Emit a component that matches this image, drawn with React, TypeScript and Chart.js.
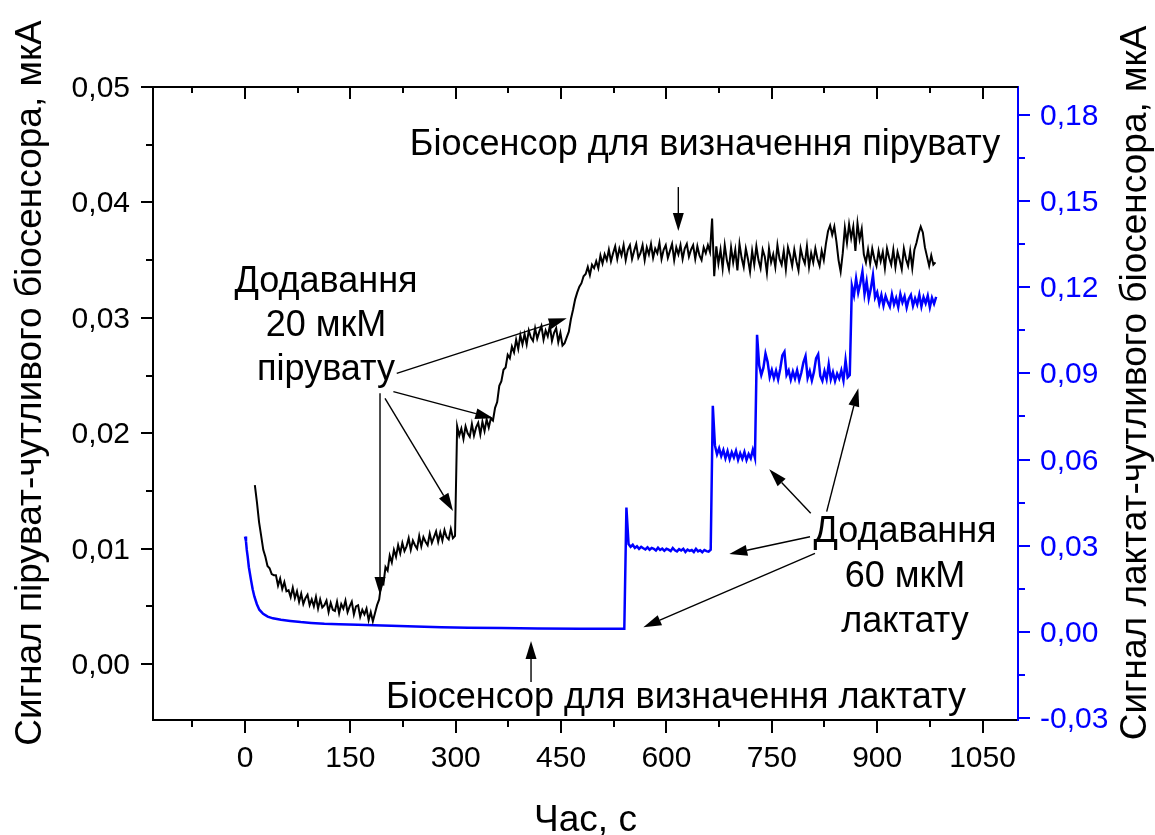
import { useEffect, useRef } from 'react';
import { Chart, registerables } from 'chart.js';

Chart.register(...registerables);

const FONT = '"Liberation Sans", Arial, Helvetica, sans-serif';

// ---- axis ranges -------------------------------------------------------
const TIME_MIN = -131;
const TIME_MAX = 1100.5;
const PYR_MIN = -0.00485;
const PYR_MAX = 0.05;
const LAC_MIN = -0.0307;
const LAC_MAX = 0.1897;

// ---- tick values -------------------------------------------------------
const timeTicks = [0, 150, 300, 450, 600, 750, 900, 1050];
const timeMinorTicks = [-75, 75, 225, 375, 525, 675, 825, 975];
const pyruvateTicks = [0, 0.01, 0.02, 0.03, 0.04, 0.05];
const pyruvateMinorTicks = [0.005, 0.015, 0.025, 0.035, 0.045];
const lactateTicks = [-0.03, 0, 0.03, 0.06, 0.09, 0.12, 0.15, 0.18];
const lactateMinorTicks = [-0.015, 0.015, 0.045, 0.075, 0.105, 0.135, 0.165];

// ---- pyruvate-sensitive biosensor, current in nA, sampled every 3 s from 14 s
const PYRUVATE_T0 = 14;
const PYRUVATE_DT = 3;
const pyruvateCurrentNA = [
  15.5, 14.0, 12.3, 11.1, 9.9, 9.3, 8.5, 8.3, 7.8, 7.7,
  7.7, 6.8, 7.4, 6.5, 7.1, 6.3, 6.4, 5.8, 6.6, 5.7,
  6.3, 5.4, 6.1, 5.2, 5.7, 6.0, 5.1, 5.6, 5.0,
  5.8, 4.8, 5.6, 4.9, 5.1, 5.5, 4.5, 5.3, 4.7, 4.6,
  5.4, 4.4, 5.2, 4.8, 5.5, 4.5, 5.0, 5.4, 4.3, 5.0,
  5.1, 4.1, 4.7, 4.3, 4.8, 3.8, 4.5, 3.7, 4.4, 5.1,
  5.6, 7.0, 6.9, 8.4, 8.1, 9.4, 8.8, 9.9, 9.3, 10.3,
  9.6, 10.5, 9.8, 10.2, 10.9, 9.9, 10.7, 10.3, 10.0, 11.1,
  10.2, 11.0, 10.6, 10.3, 11.3, 10.5, 11.0, 11.5, 10.6, 11.4,
  10.7, 11.6, 11.0, 10.8, 11.7, 10.9, 11.1, 20.6, 19.8, 20.4,
  19.5, 20.6, 20.0, 19.7, 20.8, 19.8, 20.5, 20.9, 19.9, 21.0,
  20.2, 21.2, 20.5, 21.3, 21.1, 22.2, 22.7, 24.1, 24.5, 25.5,
  25.7, 26.8, 26.5, 27.5, 27.0, 28.1, 27.3, 28.5, 27.7, 28.6,
  27.7, 28.9, 28.3, 28.0, 29.1, 28.2, 28.8, 29.3, 28.1,
  28.9, 28.4, 29.3, 28.0, 28.7, 29.1, 27.9, 28.7, 27.6, 27.8,
  28.3, 28.8, 29.9, 30.7, 31.6, 32.2, 32.7, 33.0, 33.6, 33.8,
  34.4, 33.7, 34.6, 34.3, 34.9, 34.3, 35.4, 34.7, 35.5, 35.0,
  35.9, 34.9, 35.6, 36.2, 35.1, 36.0, 35.4, 36.3, 35.0, 35.9,
  36.3, 35.1, 35.8, 36.4, 35.2, 35.6, 36.3, 35.0, 36.1, 35.5,
  36.4, 35.2, 36.0, 35.6, 36.5, 35.1, 35.9, 36.3, 35.2,
  35.8, 36.4, 35.0, 36.1, 35.5, 36.3, 35.1, 36.0, 36.4, 35.3,
  35.9, 36.3, 35.1, 36.2, 35.4, 35.0, 36.1, 35.6, 36.3, 35.7,
  38.6, 33.6, 36.2, 34.7, 35.9, 34.3, 36.3, 35.0, 34.2, 36.1,
  34.8, 35.9, 34.1, 36.4, 35.2, 34.4, 36.0, 35.1, 34.0, 35.8,
  34.6, 36.2, 35.0, 34.3, 35.9, 35.3, 33.9, 36.0, 34.8, 35.5,
  34.4, 36.3, 35.1, 34.6, 35.8, 34.2, 36.1, 35.4, 34.5, 35.9,
  34.9, 34.1, 36.0, 35.2, 34.7, 36.2, 34.4, 35.6, 34.8, 36.0,
  35.1, 34.5, 35.8, 35.0, 36.4, 37.5, 38.0, 37.2, 37.9, 36.6,
  35.0, 34.0, 35.6, 37.8, 36.5, 38.1, 36.9, 37.9, 35.8, 38.2,
  36.8, 37.7, 35.5, 34.8, 35.9, 34.7, 36.0, 35.1, 34.5, 35.8,
  34.9, 35.7, 34.3, 36.0, 35.2, 34.6, 35.9, 34.4, 35.7, 35.0,
  34.2, 36.0, 35.1, 34.5, 35.8, 34.3, 35.9, 36.5, 37.3, 37.9,
  37.4, 36.1, 35.3, 34.5, 35.4, 34.6, 34.8,
];

// ---- lactate-sensitive biosensor, current in nA ----------------------------
// baseline decay after switching on
const lactateDecayTimes = [
  0, 1.4, 2.5, 3.8, 5.5, 8.5, 10.9, 13.3, 16.9, 20.4, 25.8, 32.3, 39.7, 51.2, 64.4,
  79.3, 94.2, 113, 133.8, 160.6, 183.4, 208.2, 242.9, 279.7, 317.8, 365.1, 417, 476.4, 540,
];
const lactateDecayNA = [
  33.2, 31.5, 28.5, 26.2, 22.5, 18.1, 14.8, 12.3, 9.6, 7.7, 6.3, 5.3, 4.7, 4.2, 3.8,
  3.4, 3.1, 2.8, 2.6, 2.44, 2.25, 2.1, 1.85, 1.6, 1.45, 1.3, 1.2, 1.1, 1.05,
];
// four lactate additions, sampled every 3 s from 543 s
const LACTATE_STEPS_T0 = 543;
const LACTATE_DT = 3;
const lactateStepsNA = [
  // 1st addition
  43.3, 30.6, 29.6, 30.3, 29.2, 29.8, 28.9, 29.6, 29.1, 28.7,
  29.4, 28.6, 29.2, 28.9, 28.3, 29.3, 28.5, 29.0, 28.2, 28.9,
  28.6, 28.1, 29.2, 28.4, 28.0, 28.8, 28.3, 28.9, 27.8, 28.6,
  28.2, 28.5, 27.8, 28.9, 28.0, 28.4, 27.7, 28.5, 28.1, 27.9,
  28.6,
  // 2nd addition
  78.7, 64.9, 61.8, 63.9, 61.2, 63.3, 60.4, 62.9, 60.1, 62.5,
  60.7, 63.0, 59.9, 62.2, 60.3, 62.6, 59.8, 61.9, 60.4, 63.4,
  60.6,
  // 3rd addition
  103.4, 92.8, 89.4, 91.9, 96.9, 94.0, 88.7, 91.2, 88.3, 90.9,
  87.9, 91.6, 96.2, 97.5, 89.4, 91.0, 87.8, 90.6, 88.2, 91.1,
  87.6, 90.2, 93.8, 96.0, 88.4, 90.8, 87.5, 90.5, 95.2, 96.6,
  89.1, 87.4, 90.8, 88.0, 93.1, 87.9, 90.4, 87.3, 89.9, 88.2,
  91.0, 87.5, 94.6, 88.6, 89.4,
  // 4th addition
  120.5, 117.2, 123.0, 118.1, 121.4, 125.4, 117.6, 122.0, 116.0, 119.5,
  124.2, 116.4, 118.2, 114.3, 117.3, 113.6, 116.9, 114.8, 113.2, 117.5,
  114.0, 116.2, 113.1, 117.6, 114.7, 116.8, 112.9, 115.9, 117.3, 113.5,
  116.1, 114.0, 117.4, 113.3, 116.5, 114.4, 117.0, 113.0, 116.3, 114.2,
  116.6,
];

// ---- annotations (time in s, signal in µA on the pyruvate axis) -----------
type Pt = [number, number];
const pyruvateAdditionText = ['Додавання', '20 мкМ', 'пірувату'];
const pyruvateAdditionAnchor: Pt = [115.3, 0.03224];
const pyruvateAdditionArrows: [Pt, Pt][] = [
  [[216.0, 0.02519], [458.0, 0.02996]],
  [[211.2, 0.0236], [353.5, 0.02129]],
  [[199.3, 0.02302], [296.1, 0.01326]],
  [[192.2, 0.02346], [192.2, 0.00598]],
];
const lactateAdditionText = ['Додавання', '60 мкМ', 'лактату'];
const lactateAdditionAnchor: Pt = [939.6, 0.0106];
const lactateAdditionArrows: [Pt, Pt][] = [
  [[828.1, 0.0132], [873.2, 0.02389]],
  [[805.4, 0.01306], [746.4, 0.01687]],
  [[804.4, 0.01103], [689.5, 0.00953]],
  [[811.5, 0.00959], [567.1, 0.00318]],
];
const pyruvateSensorText = 'Біосенсор для визначення пірувату';
const pyruvateSensorAnchor: Pt = [654.9, 0.04411];
const pyruvateSensorArrow: [Pt, Pt] = [[616.9, 0.04133], [616.9, 0.03752]];
const lactateSensorText = 'Біосенсор для визначення лактату';
const lactateSensorAnchor: Pt = [613.6, -0.00381];
const lactateSensorArrow: [Pt, Pt] = [[407.2, -0.00156], [407.2, 0.00199]];

const X_TITLE = 'Час, с';
const LEFT_TITLE = 'Сигнал піруват-чутливого біосенсора, мкА';
const RIGHT_TITLE = 'Сигнал лактат-чутливого біосенсора, мкА';

const BLUE = '#0000ff';

const fmt = (v: number) => v.toFixed(2).replace('.', ',');

function drawText(
  ctx: CanvasRenderingContext2D,
  s: string,
  x: number,
  y: number,
  align: CanvasTextAlign,
  size: number,
  color = '#000',
) {
  ctx.save();
  ctx.font = `${size}px ${FONT}`;
  ctx.textAlign = align;
  ctx.textBaseline = 'alphabetic';
  ctx.fillStyle = color;
  ctx.fillText(s, x, y);
  ctx.restore();
}

function drawVerticalText(ctx: CanvasRenderingContext2D, s: string, x: number, y: number, size: number) {
  ctx.save();
  ctx.translate(x, y);
  ctx.rotate(-Math.PI / 2);
  ctx.font = `${size}px ${FONT}`;
  ctx.textAlign = 'center';
  ctx.textBaseline = 'alphabetic';
  ctx.fillStyle = '#000';
  ctx.fillText(s, 0, 0);
  ctx.restore();
}

function drawArrow(ctx: CanvasRenderingContext2D, x1: number, y1: number, x2: number, y2: number) {
  const len = 18;
  const half = 5.5;
  const ang = Math.atan2(y2 - y1, x2 - x1);
  const bx = x2 - len * Math.cos(ang);
  const by = y2 - len * Math.sin(ang);
  ctx.beginPath();
  ctx.moveTo(x1, y1);
  ctx.lineTo(bx, by);
  ctx.stroke();
  ctx.beginPath();
  ctx.moveTo(x2, y2);
  ctx.lineTo(bx + half * Math.sin(ang), by - half * Math.cos(ang));
  ctx.lineTo(bx - half * Math.sin(ang), by + half * Math.cos(ang));
  ctx.closePath();
  ctx.fill();
}

const decorPlugin = {
  id: 'decor',
  afterDraw(chart: any) {
    const { ctx, chartArea: a, scales } = chart;
    const xs = scales.x;
    const yl = scales.y;
    const yr = scales.y1;
    const px = (t: number) => xs.getPixelForValue(t);
    const py = (v: number) => yl.getPixelForValue(v);

    ctx.save();
    ctx.lineCap = 'butt';

    // top frame line
    ctx.strokeStyle = '#000';
    ctx.lineWidth = 2;
    ctx.beginPath();
    ctx.moveTo(a.left - 1, a.top);
    ctx.lineTo(a.right, a.top);
    ctx.stroke();

    const seg = (x1: number, y1: number, x2: number, y2: number) => {
      ctx.beginPath();
      ctx.moveTo(x1, y1);
      ctx.lineTo(x2, y2);
      ctx.stroke();
    };

    // time ticks: outward at the bottom, inward at the top
    timeTicks.forEach((t) => {
      const x = Math.round(px(t));
      seg(x, a.bottom, x, a.bottom + 13);
      seg(x, a.top, x, a.top + 12);
    });
    timeMinorTicks.forEach((t) => {
      const x = Math.round(px(t));
      seg(x, a.bottom, x, a.bottom + 7);
      seg(x, a.top, x, a.top + 6);
    });
    // left axis ticks
    pyruvateTicks.forEach((v) => {
      const y = Math.round(py(v));
      seg(a.left - 12, y, a.left, y);
    });
    pyruvateMinorTicks.forEach((v) => {
      const y = Math.round(py(v));
      seg(a.left - 7, y, a.left, y);
    });
    // right axis ticks (blue)
    ctx.strokeStyle = BLUE;
    lactateTicks.forEach((v) => {
      const y = Math.round(yr.getPixelForValue(v));
      seg(a.right, y, a.right + 12, y);
    });
    lactateMinorTicks.forEach((v) => {
      const y = Math.round(yr.getPixelForValue(v));
      seg(a.right, y, a.right + 7, y);
    });

    // tick labels
    timeTicks.forEach((t) => drawText(ctx, String(t), px(t), a.bottom + 47, 'center', 30));
    pyruvateTicks.forEach((v) => drawText(ctx, fmt(v), a.left - 23, py(v) + 10, 'right', 30));
    lactateTicks.forEach((v) =>
      drawText(ctx, fmt(v), a.right + 22, yr.getPixelForValue(v) + 10, 'left', 30, BLUE),
    );

    // axis titles
    drawText(ctx, X_TITLE, (a.left + a.right) / 2, 831, 'center', 37);
    drawVerticalText(ctx, LEFT_TITLE, 41, 383, 37);
    drawVerticalText(ctx, RIGHT_TITLE, 1146, 383, 37);

    // annotations
    ctx.strokeStyle = '#000';
    ctx.fillStyle = '#000';
    ctx.lineWidth = 1.4;
    const arrow = ([p, q]: [Pt, Pt]) => drawArrow(ctx, px(p[0]), py(p[1]), px(q[0]), py(q[1]));
    pyruvateAdditionArrows.forEach(arrow);
    lactateAdditionArrows.forEach(arrow);
    arrow(pyruvateSensorArrow);
    arrow(lactateSensorArrow);

    pyruvateAdditionText.forEach((s, i) =>
      drawText(ctx, s, px(pyruvateAdditionAnchor[0]), py(pyruvateAdditionAnchor[1]) + i * 44, 'center', 36),
    );
    lactateAdditionText.forEach((s, i) =>
      drawText(ctx, s, px(lactateAdditionAnchor[0]), py(lactateAdditionAnchor[1]) + i * 45, 'center', 36),
    );
    drawText(ctx, pyruvateSensorText, px(pyruvateSensorAnchor[0]), py(pyruvateSensorAnchor[1]), 'center', 36);
    drawText(ctx, lactateSensorText, px(lactateSensorAnchor[0]), py(lactateSensorAnchor[1]), 'center', 36);

    ctx.restore();
  },
};

export default function App() {
  const canvasRef = useRef<HTMLCanvasElement>(null);

  useEffect(() => {
    const canvas = canvasRef.current;
    if (!canvas) return;

    const pyruvatePoints = pyruvateCurrentNA.map((v, i) => ({
      x: PYRUVATE_T0 + i * PYRUVATE_DT,
      y: v / 1000,
    }));
    const lactatePoints = [
      ...lactateDecayTimes.map((t, i) => ({ x: t, y: lactateDecayNA[i] / 1000 })),
      ...lactateStepsNA.map((v, i) => ({ x: LACTATE_STEPS_T0 + i * LACTATE_DT, y: v / 1000 })),
    ];

    const chart = new Chart(canvas, {
      type: 'line',
      data: {
        datasets: [
          {
            label: 'pyruvate',
            data: pyruvatePoints,
            yAxisID: 'y',
            borderColor: '#000',
            borderWidth: 2,
            pointRadius: 0,
            tension: 0,
          },
          {
            label: 'lactate',
            data: lactatePoints,
            yAxisID: 'y1',
            borderColor: BLUE,
            borderWidth: 2.5,
            pointRadius: 0,
            tension: 0,
          },
        ],
      },
      options: {
        animation: false,
        responsive: false,
        devicePixelRatio: 1,
        events: [],
        layout: { padding: { top: 87, left: 0, right: 0, bottom: 0 } },
        plugins: {
          legend: { display: false },
          tooltip: { enabled: false },
          title: { display: false },
        },
        scales: {
          x: {
            type: 'linear',
            position: 'bottom',
            min: TIME_MIN,
            max: TIME_MAX,
            grid: { display: false, drawTicks: false },
            border: { display: true, color: '#000', width: 2 },
            ticks: { display: false },
            afterFit: (s: any) => {
              s.height = 115;
            },
          },
          y: {
            type: 'linear',
            position: 'left',
            min: PYR_MIN,
            max: PYR_MAX,
            grid: { display: false, drawTicks: false },
            border: { display: true, color: '#000', width: 2 },
            ticks: { display: false },
            afterFit: (s: any) => {
              s.width = 153;
            },
          },
          y1: {
            type: 'linear',
            position: 'right',
            min: LAC_MIN,
            max: LAC_MAX,
            grid: { display: false, drawTicks: false },
            border: { display: true, color: BLUE, width: 2 },
            ticks: { display: false },
            afterFit: (s: any) => {
              s.width = 137;
            },
          },
        },
      },
      plugins: [decorPlugin],
    });

    return () => chart.destroy();
  }, []);

  return (
    <div style={{ position: 'absolute', left: 0, top: 0, width: 1155, height: 835, background: '#fff' }}>
      <canvas ref={canvasRef} width={1155} height={835} style={{ display: 'block', width: 1155, height: 835 }} />
    </div>
  );
}
